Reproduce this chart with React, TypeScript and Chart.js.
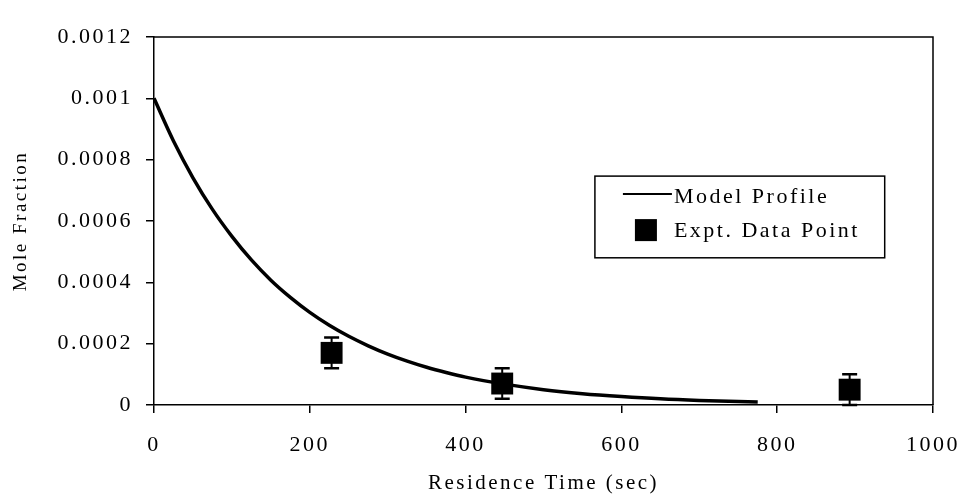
import React, { useEffect, useRef } from 'react';
import { Chart, registerables } from 'chart.js';

Chart.register(...registerables);

// Model profile
const modelTime = [0, 25, 50, 75, 100, 125, 150, 175, 200, 225, 250, 275, 300, 325, 350, 375, 400, 450, 500, 550, 600, 650, 700, 775];
const modelFraction = [
  0.001, 0.000861, 0.000741, 0.000638, 0.00055, 0.000473, 0.000407, 0.000351, 0.000302, 0.00026, 0.000224, 0.000193,
  0.000166, 0.000143, 0.000123, 0.000106, 0.000091, 0.000068, 0.00005, 0.000037, 0.0000275, 0.00002, 0.000015, 0.00001,
];

// Experimental data points with error bars
const exptTime = [228, 447, 893];
const exptFraction = [0.00017, 0.00007, 0.00005];
const exptError = [0.00005, 0.00005, 0.00005];

const xTickLabels = ['0', '200', '400', '600', '800', '1000'];
const yTickLabels = ['0', '0.0002', '0.0004', '0.0006', '0.0008', '0.001', '0.0012'];
const legendLabels = ['Model Profile', 'Expt. Data Point'];
const xTitle = 'Residence Time (sec)';
const yTitle = 'Mole Fraction';

const FONT = '"Liberation Serif", "Times New Roman", serif';

const spacingPlugin = {
  id: 'letterSpacing',
  beforeLayout(chart: any) {
    chart.ctx.letterSpacing = '2.5px';
  },
  beforeDraw(chart: any) {
    chart.ctx.letterSpacing = '2.5px';
  },
};

const framePlugin = {
  id: 'frame',
  afterDraw(chart: any) {
    const { ctx, chartArea: ca } = chart;
    ctx.save();
    ctx.strokeStyle = '#000';
    ctx.lineWidth = 1.5;
    ctx.beginPath();
    ctx.moveTo(ca.left, ca.top);
    ctx.lineTo(ca.right, ca.top);
    ctx.lineTo(ca.right, ca.bottom);
    ctx.stroke();
    ctx.restore();
  },
};

const errorBarPlugin = {
  id: 'errorBars',
  afterDatasetsDraw(chart: any) {
    const { ctx } = chart;
    const xs = chart.scales.x;
    const ys = chart.scales.y;
    ctx.save();
    ctx.strokeStyle = '#000';
    for (let i = 0; i < exptTime.length; i++) {
      const x = xs.getPixelForValue(exptTime[i]);
      const yT = ys.getPixelForValue(exptFraction[i] + exptError[i]);
      const yB = ys.getPixelForValue(Math.max(0, exptFraction[i] - exptError[i]));
      ctx.lineWidth = 2;
      ctx.beginPath();
      ctx.moveTo(x, yT);
      ctx.lineTo(x, yB);
      ctx.stroke();
      ctx.lineWidth = 2.5;
      ctx.beginPath();
      ctx.moveTo(x - 7.5, yT);
      ctx.lineTo(x + 7.5, yT);
      ctx.moveTo(x - 7.5, yB);
      ctx.lineTo(x + 7.5, yB);
      ctx.stroke();
    }
    ctx.restore();
  },
};

const legendPlugin = {
  id: 'boxLegend',
  afterDraw(chart: any) {
    const { ctx, chartArea: ca } = chart;
    const w = ca.right - ca.left;
    const h = ca.bottom - ca.top;
    const bx = ca.left + 0.566 * w;
    const bx2 = ca.left + 0.938 * w;
    const by = ca.top + 0.378 * h;
    const by2 = ca.top + 0.6 * h;
    ctx.save();
    ctx.fillStyle = '#fff';
    ctx.fillRect(bx, by, bx2 - bx, by2 - by);
    ctx.strokeStyle = '#000';
    ctx.lineWidth = 1.5;
    ctx.strokeRect(bx, by, bx2 - bx, by2 - by);
    // line sample
    ctx.lineWidth = 2;
    ctx.beginPath();
    ctx.moveTo(bx + 28, by + 18);
    ctx.lineTo(bx + 77, by + 18);
    ctx.stroke();
    // square sample
    ctx.fillStyle = '#000';
    ctx.fillRect(bx + 40, by + 43, 22, 22);
    ctx.font = `22px ${FONT}`;
    ctx.letterSpacing = '2.5px';
    ctx.textBaseline = 'middle';
    ctx.textAlign = 'left';
    ctx.fillText(legendLabels[0], bx + 79, by + 21);
    ctx.fillText(legendLabels[1], bx + 79, by + 55);
    ctx.restore();
  },
};

export default function App() {
  const canvasRef = useRef<HTMLCanvasElement | null>(null);

  useEffect(() => {
    document.body.style.margin = '0';
    const canvas = canvasRef.current;
    if (!canvas) return;
    const chart = new Chart(canvas, {
      type: 'scatter',
      data: {
        datasets: [
          {
            label: legendLabels[0],
            data: modelTime.map((t, i) => ({ x: t, y: modelFraction[i] })),
            showLine: true,
            borderColor: '#000',
            borderWidth: 3.5,
            pointRadius: 0,
            cubicInterpolationMode: 'monotone',
            order: 2,
          },
          {
            label: legendLabels[1],
            data: exptTime.map((t, i) => ({ x: t, y: exptFraction[i] })),
            showLine: false,
            pointStyle: 'rect',
            pointRadius: 15.5,
            backgroundColor: '#000',
            borderColor: '#000',
            borderWidth: 0,
            order: 1,
          },
        ],
      },
      options: {
        animation: false,
        responsive: true,
        maintainAspectRatio: false,
        layout: { padding: { top: 37, right: 24, left: 0, bottom: 0 } },
        plugins: {
          legend: { display: false },
          tooltip: { enabled: false },
        },
        scales: {
          x: {
            type: 'linear',
            min: 0,
            max: 1000,
            afterFit(scale: any) {
              scale.height = 99;
              scale.paddingLeft = 0;
              scale.paddingRight = 0;
            },
            ticks: {
              stepSize: 200,
              color: '#000',
              padding: 19,
              maxRotation: 0,
              font: { family: FONT, size: 22 },
              callback: (v: any) => xTickLabels[Math.round(Number(v) / 200)] ?? '',
            },
            grid: {
              display: true,
              drawOnChartArea: false,
              drawTicks: true,
              tickLength: 8,
              color: '#000',
              lineWidth: 1.5,
            },
            border: { display: true, color: '#000', width: 1.5 },
            title: {
              display: true,
              text: xTitle,
              color: '#000',
              font: { family: FONT, size: 21 },
              padding: { top: 8, bottom: 8 },
            },
          },
          y: {
            type: 'linear',
            min: 0,
            max: 0.0012,
            afterFit(scale: any) {
              scale.width = 154;
              scale.paddingTop = 0;
              scale.paddingBottom = 0;
            },
            ticks: {
              stepSize: 0.0002,
              color: '#000',
              padding: 13,
              font: { family: FONT, size: 22 },
              callback: (v: any) => yTickLabels[Math.round(Number(v) / 0.0002)] ?? '',
            },
            grid: {
              display: true,
              drawOnChartArea: false,
              drawTicks: true,
              tickLength: 8,
              color: '#000',
              lineWidth: 1.5,
            },
            border: { display: true, color: '#000', width: 1.5 },
            title: {
              display: true,
              text: yTitle,
              color: '#000',
              font: { family: FONT, size: 19 },
              padding: { top: 10, bottom: 10 },
            },
          },
        },
      },
      plugins: [spacingPlugin, errorBarPlugin, framePlugin, legendPlugin],
    } as any);
    return () => chart.destroy();
  }, []);

  return (
    <div style={{ position: 'relative', width: 957, height: 504, background: '#fff' }}>
      <canvas ref={canvasRef} />
    </div>
  );
}
